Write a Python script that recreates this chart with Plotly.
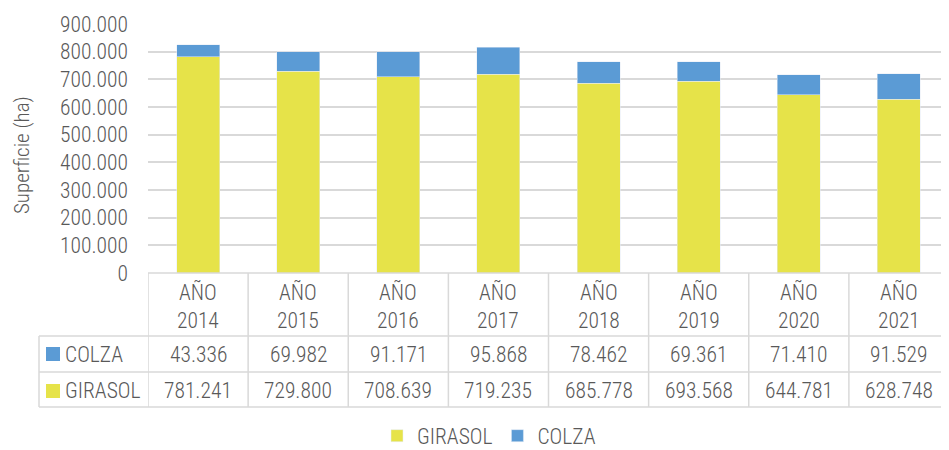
import plotly.graph_objects as go

# Data
years = ["AÑO 2014", "AÑO 2015", "AÑO 2016", "AÑO 2017", "AÑO 2018", "AÑO 2019", "AÑO 2020", "AÑO 2021"]
girasol = [781241, 729800, 708639, 719235, 685778, 693568, 644781, 628748]
colza = [43336, 69982, 91171, 95868, 78462, 69361, 71410, 91529]
series_names = ["GIRASOL", "COLZA"]
y_ticks = [0, 100000, 200000, 300000, 400000, 500000, 600000, 700000, 800000, 900000]

yellow = "#E6E349"
blue = "#5B9BD5"
grid = "#D9D9D9"
txt = "#595959"
font_family = "Roboto Condensed, Roboto, Arial"
fw = 300
fs = 21.5

# page body has an 8px margin, so the figure is shifted by 8px inside the window
OFF = 8
W, H = 949 - OFF, 450 - OFF


def px(x):
    # window pixel column -> paper x
    return (x - OFF) / W


def py(y):
    # window pixel row -> paper y
    return (H - (y - OFF)) / H


def fmt(v):
    return f"{v:,}".replace(",", ".")


def tfont(size=fs):
    return dict(family=font_family, size=size, color=txt, weight=fw)


fig = go.Figure()
fig.add_trace(go.Bar(x=years, y=girasol, name=series_names[0], marker_color=yellow, width=0.43))
fig.add_trace(go.Bar(x=years, y=colza, name=series_names[1], marker_color=blue, width=0.43))

# Data table under the chart
shapes = []
line = dict(color=grid, width=1.5)
left = px(39)
row_lines = [py(273), py(336), py(372), py(407)]
shapes.append(dict(type="line", xref="x", yref="paper", x0=-0.5, x1=len(years) - 0.5,
                   y0=row_lines[0], y1=row_lines[0], line=line))
for yl in row_lines[1:]:
    shapes.append(dict(type="line", xref="paper", yref="paper", x0=left, x1=1,
                       y0=yl, y1=yl, line=line))
for i in range(len(years) + 1):
    shapes.append(dict(type="line", xref="x", yref="paper", x0=i - 0.5, x1=i - 0.5,
                       y0=row_lines[0], y1=row_lines[3], line=line))
shapes.append(dict(type="line", xref="paper", yref="paper", x0=left, x1=left,
                   y0=row_lines[1], y1=row_lines[3], line=line))
# legend keys in table
for color, yc in [(blue, 354), (yellow, 391)]:
    shapes.append(dict(type="rect", xref="paper", yref="paper", x0=px(46), x1=px(60),
                       y0=py(yc + 7), y1=py(yc - 7), fillcolor=color, line=dict(width=0)))

annotations = []
for i, yr in enumerate(years):
    a, b = yr.split(" ")
    annotations.append(dict(x=i, y=py(306), xref="x", yref="paper", text=f"{a}<br>{b}",
                            showarrow=False, font=tfont(), yanchor="middle"))
    annotations.append(dict(x=i, y=py(354), xref="x", yref="paper", text=fmt(colza[i]),
                            showarrow=False, font=tfont(), yanchor="middle"))
    annotations.append(dict(x=i, y=py(390), xref="x", yref="paper", text=fmt(girasol[i]),
                            showarrow=False, font=tfont(), yanchor="middle"))
annotations.append(dict(x=px(63), y=py(354), xref="paper", yref="paper", text="COLZA",
                        showarrow=False, xanchor="left", yanchor="middle", font=tfont()))
annotations.append(dict(x=px(63), y=py(390), xref="paper", yref="paper", text="GIRASOL",
                        showarrow=False, xanchor="left", yanchor="middle", font=tfont()))
# y axis title
annotations.append(dict(x=px(22), y=py(155), xref="paper", yref="paper", text="Superficie (ha)",
                        textangle=-90, showarrow=False, xanchor="center", yanchor="middle",
                        font=tfont(21)))

fig.update_layout(
    width=W, height=H,
    margin=dict(l=0, r=0, t=0, b=0, autoexpand=False),
    barmode="stack",
    plot_bgcolor="white", paper_bgcolor="white",
    separators=",.",
    font=tfont(),
    shapes=shapes,
    annotations=annotations,
    legend=dict(orientation="h", x=px(489), xanchor="center", y=-0.014, yanchor="bottom",
                font=tfont(), traceorder="normal", borderwidth=0,
                itemwidth=30),
    xaxis=dict(domain=[px(148), 1], range=[-0.5, len(years) - 0.5], showticklabels=False,
               showgrid=False, zeroline=False, showline=False, ticks="", automargin=False),
    yaxis=dict(domain=[py(273), py(24)], range=[0, 900000], tickvals=y_ticks,
               tickformat=",d", showgrid=True, gridcolor=grid, gridwidth=1.5, zeroline=False,
               showline=False, ticks="", ticklabelstandoff=19, automargin=False,
               tickfont=tfont()),
)

fig.write_html("out.html")
